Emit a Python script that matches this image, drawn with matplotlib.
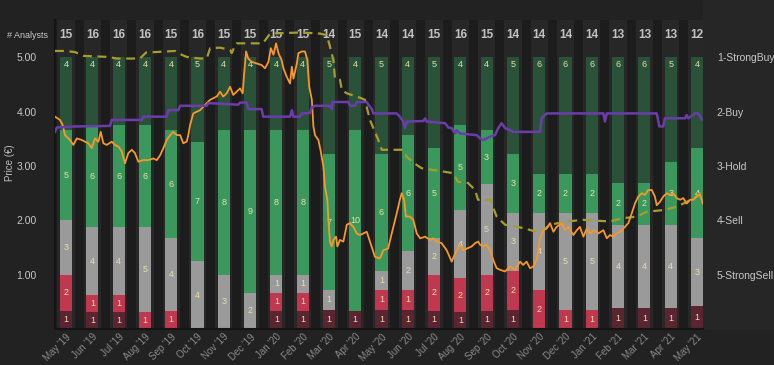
import numpy as np
import matplotlib.pyplot as plt
from matplotlib.patches import Rectangle
from matplotlib.transforms import ScaledTranslation

plt.rcParams["font.family"] = ["Liberation Sans", "DejaVu Sans"]

months = ["May '19", "Jun '19", "Jul '19", "Aug '19", "Sep '19", "Oct '19", "Nov '19",
          "Dec '19", "Jan '20", "Feb '20", "Mar '20", "Apr '20", "May '20", "Jun '20",
          "Jul '20", "Aug '20", "Sep '20", "Oct '20", "Nov '20", "Dec '20", "Jan '21",
          "Feb '21", "Mar '21", "Apr '21", "May '21"]

strong_buy = [4, 4, 4, 4, 4, 5, 4, 4, 4, 4, 5, 4, 5, 4, 5, 4, 4, 5, 6, 6, 6, 6, 6, 5, 4]
buy = [5, 6, 6, 6, 6, 7, 8, 9, 8, 8, 7, 10, 6, 6, 5, 5, 3, 3, 2, 2, 2, 2, 2, 3, 4]
hold = [3, 4, 4, 5, 4, 4, 3, 2, 1, 1, 1, 0, 1, 2, 2, 4, 5, 3, 4, 5, 5, 4, 4, 4, 3]
sell = [2, 1, 1, 1, 1, 0, 0, 0, 1, 1, 0, 0, 1, 1, 2, 2, 2, 2, 2, 1, 1, 0, 0, 0, 0]
strong_sell = [1, 1, 1, 0, 0, 0, 0, 0, 1, 1, 1, 1, 1, 1, 1, 1, 1, 1, 0, 0, 0, 1, 1, 1, 1]

rating_labels = ["1-StrongBuy", "2-Buy", "3-Hold", "4-Sell", "5-StrongSell"]

# share price, time in months since May '19
price_t = [-0.42, -0.23, -0.13, -0.04, 0.15, 0.28, 0.41, 0.60, 0.72, 0.85, 0.98, 1.10, 1.23,
           1.32, 1.42, 1.55, 1.74, 1.86, 1.99, 2.12, 2.24, 2.37, 2.50, 2.62, 2.75, 2.94, 3.13,
           3.32, 3.45, 3.58, 3.70, 3.83, 3.96, 4.08, 4.21, 4.34, 4.46, 4.59, 4.65, 4.72, 4.84,
           4.97, 5.10, 5.22, 5.35, 5.48, 5.60, 5.73, 5.86, 5.98, 6.11, 6.24, 6.36, 6.49, 6.62,
           6.72, 6.77, 6.85, 6.93, 7.06, 7.25, 7.44, 7.57, 7.70, 7.79, 7.89, 7.99, 8.08, 8.20,
           8.27, 8.39, 8.52, 8.59, 8.65, 8.78, 8.84, 8.97, 9.09, 9.18, 9.25, 9.35, 9.41, 9.47,
           9.60, 9.69, 9.79, 9.85, 9.94, 9.98, 10.04, 10.11, 10.17, 10.27, 10.32, 10.42, 10.55,
           10.68, 10.80, 10.93, 11.06, 11.18, 11.31, 11.44, 11.56, 11.75, 11.94, 12.07, 12.25,
           12.39, 12.58, 12.70, 12.77, 12.86, 12.93, 13.08, 13.21, 13.34, 13.47, 13.66, 13.85,
           13.97, 14.10, 14.29, 14.48, 14.67, 14.80, 14.99, 15.11, 15.24, 15.43, 15.56, 15.68,
           15.75, 15.87, 16.00, 16.13, 16.25, 16.38, 16.51, 16.70, 16.89, 17.08, 17.27, 17.39,
           17.52, 17.65, 17.77, 17.90, 18.03, 18.16, 18.28, 18.41, 18.54, 18.66, 18.86, 18.98,
           19.11, 19.30, 19.43, 19.55, 19.68, 19.81, 19.93, 20.12, 20.25, 20.44, 20.57, 20.69,
           20.82, 20.95, 21.07, 21.26, 21.39, 21.52, 21.64, 21.77, 21.90, 22.02, 22.15, 22.28,
           22.40, 22.47, 22.59, 22.72, 22.85, 22.97, 23.10, 23.23, 23.36, 23.48, 23.61, 23.74,
           23.86, 23.99, 24.12, 24.22]
price_v = [3.91, 3.85, 3.76, 3.57, 3.48, 3.39, 3.51, 3.48, 3.45, 3.42, 3.33, 3.51, 3.45,
           3.63, 3.42, 3.39, 3.45, 3.39, 3.36, 3.27, 3.05, 3.24, 3.30, 3.24, 3.08, 3.11, 3.11,
           3.14, 3.11, 3.20, 3.33, 3.48, 3.57, 3.63, 3.57, 3.57, 3.42, 3.45, 3.57, 3.76, 3.97,
           4.00, 4.03, 4.09, 4.16, 4.22, 4.25, 4.28, 4.37, 4.28, 4.34, 4.46, 4.31, 4.37, 4.43,
           4.34, 4.68, 5.11, 4.98, 4.92, 4.89, 4.86, 4.80, 4.92, 5.17, 5.05, 5.26, 5.08, 4.95,
           4.80, 4.65, 4.52, 4.83, 4.61, 4.89, 5.08, 5.11, 5.11, 4.95, 4.46, 4.22, 3.73, 3.57,
           3.48, 3.27, 2.99, 2.62, 2.38, 2.01, 1.61, 1.52, 1.64, 1.70, 1.52, 1.64, 1.61,
           1.92, 1.95, 1.88, 1.76, 1.73, 1.76, 1.79, 1.61, 1.33, 1.30, 1.45, 1.48,
           1.76, 2.13, 2.38, 2.50, 2.38, 2.07, 2.07, 2.01, 1.76, 1.67, 1.70, 1.64,
           1.67, 1.61, 1.58, 1.45, 1.24, 1.39, 1.55, 1.45, 1.48, 1.52, 1.58, 1.61,
           1.55, 1.52, 1.55, 1.45, 1.27, 1.12, 1.09, 1.06, 1.15, 1.09, 1.24, 1.18,
           1.24, 1.12, 1.15, 1.27, 1.67, 1.82, 1.85, 1.95, 1.79, 1.88, 1.95, 1.82,
           1.88, 1.73, 1.82, 1.88, 1.70, 1.85, 1.76, 1.82, 1.76, 1.82, 1.67, 1.73,
           1.70, 1.76, 1.79, 1.88, 1.95, 2.13, 2.31, 2.44, 2.50, 2.47, 2.56, 2.56,
           2.44, 2.28, 2.34, 2.44, 2.50, 2.47, 2.50, 2.41, 2.38, 2.41, 2.31, 2.38,
           2.38, 2.44, 2.47, 2.31]

# average price target
target_t = [-0.42, -0.04, 0.34, 0.66, 1.61, 1.93, 2.81, 3.04, 4.15, 4.40, 4.59, 5.10, 5.35,
            5.48, 5.86, 6.24, 6.30, 6.43, 6.49, 7.49, 7.76, 8.90, 9.66, 9.92, 10.04, 10.17,
            10.23, 10.42, 10.49, 10.68, 11.18, 11.37, 11.56, 11.75, 11.88, 12.01, 12.82, 12.96,
            13.34, 13.53, 14.34, 14.72, 14.91, 15.29, 15.56, 15.67, 16.13, 16.38, 16.70, 17.38,
            17.90, 18.16, 18.41, 19.05, 19.67, 20.69, 21.19, 21.71, 22.09, 22.72, 23.23, 23.61,
            23.99, 24.22]
target_v = [5.12, 5.12, 5.10, 5.03, 5.01, 4.98, 4.98, 5.09, 5.12, 5.05, 5.01, 4.98, 4.98,
            5.17, 5.18, 5.14, 5.08, 5.22, 5.26, 5.26, 5.44, 5.46, 5.44, 5.41, 5.20, 4.95,
            4.61, 4.59, 4.40, 4.34, 4.26, 4.22, 3.85, 3.63, 3.48, 3.30, 3.30, 3.17,
            3.02, 2.96, 2.90, 2.87, 2.71, 2.69, 2.56, 2.38, 2.38, 2.07, 1.92, 1.86,
            1.79, 1.82, 1.92, 1.98, 2.01, 1.98, 2.04, 2.07, 2.16, 2.19, 2.25, 2.34,
            2.44, 2.56]

# average analyst rating (1 = strong buy, 5 = strong sell)
rating_t = [-0.42, -0.35, 0.34, 1.67, 1.74, 2.88, 2.94, 3.83, 3.89, 4.27, 4.34, 5.35, 5.41,
            6.55, 6.62, 6.87, 6.93, 7.44, 7.50, 8.52, 8.59, 8.65, 8.90, 8.97, 9.28, 9.35, 9.47,
            10.04, 10.11, 10.14, 10.74, 10.80, 10.99, 11.06, 11.44, 11.50, 11.63, 11.69, 12.58,
            12.70, 12.83, 12.89, 12.96, 13.59, 13.66, 13.72, 14.42, 14.54, 14.67, 14.80, 14.86,
            14.99, 15.62, 15.75, 15.87, 16.13, 16.32, 16.44, 16.57, 16.70, 16.89, 17.01, 18.03,
            18.09, 18.28, 20.44, 20.50, 20.57, 22.47, 22.57, 22.72, 22.78, 23.54, 23.61, 23.67,
            23.93, 24.05, 24.18]
rating_v = [2.37, 2.29, 2.27, 2.26, 2.15, 2.15, 2.09, 2.09, 1.97, 1.97, 1.89, 1.89, 1.84,
            1.87, 1.83, 1.83, 1.95, 1.95, 2.09, 2.09, 1.97, 2.09, 2.09, 2.03, 2.02, 1.92, 1.89,
            1.89, 1.95, 1.82, 1.82, 1.89, 1.89, 1.82, 1.82, 1.87, 1.95, 2.03, 2.03,
            2.09, 2.18, 2.30, 2.18, 2.17, 2.12, 2.18, 2.21, 2.29, 2.30, 2.40, 2.34,
            2.40, 2.43, 2.49, 2.52, 2.46, 2.43, 2.30, 2.21, 2.30, 2.34, 2.37, 2.37,
            2.12, 2.03, 2.03, 2.18, 2.03, 2.03, 2.27, 2.27, 2.12, 2.12, 2.06, 2.12,
            2.03, 2.03, 2.14]

W, H = 774, 365
fig = plt.figure(figsize=(W / 100, H / 100), dpi=100, facecolor="#222222")
fig.patches.append(Rectangle((703 / W, 1 - 329 / H), 71 / W, 329 / H,
                             transform=fig.transFigure, color="#262626", zorder=-5))
ax = fig.add_axes([55 / W, 1 - 329 / H, 648 / W, 309 / H])
ax.set_facecolor("#1c1c1c")

x = np.arange(len(months))
totals = np.array(strong_buy) + np.array(buy) + np.array(hold) + np.array(sell) + np.array(strong_sell)
scale = 5.0 / totals

for i in x:
    ax.axvspan(i - 0.33, i + 0.33, color="#272727", lw=0, zorder=0)

seg_colors = ["#5a2431", "#bf3850", "#9a9a9a", "#3a985d", "#2a5239"]
stack = [strong_sell, sell, hold, buy, strong_buy]
bottom = np.zeros(len(x))
label_col = "#e6e0a6"
for k, (vals, col) in enumerate(zip(stack, seg_colors)):
    h = np.array(vals) * scale
    ax.bar(x, h, bottom=bottom, width=0.46, color=col, lw=0, zorder=1)
    for i in x:
        if vals[i] == 0:
            continue
        if k == 4:
            yy = bottom[i] + h[i] - 0.13
        else:
            yy = bottom[i] + h[i] / 2
        ax.text(i, yy, str(vals[i]), ha="center", va="center", fontsize=6.5,
                color=label_col, zorder=3)
    bottom = bottom + h

for i in x:
    ax.text(i, 5.41, str(totals[i]), ha="center", va="center", fontsize=8.5,
            fontweight="bold", color="#c2c2c2")
fig.text(48 / W, 1 - 35 / H, "# Analysts", ha="right", va="center", fontsize=6.5,
         color="#c8c8c8")

ax.plot(target_t, target_v, color="#a69d2e", lw=1.6, ls=(0, (4, 2.5)), zorder=4)
ax.plot(price_t, price_v, color="#f7982a", lw=1.3, zorder=5)

ax.set_xlim(-0.42, 24.23)
ax.set_ylim(0, 5.69)
ax.set_yticks([1, 2, 3, 4, 5])
ax.set_yticklabels(["1.00", "2.00", "3.00", "4.00", "5.00"])
ax.set_xticks(x)
ax.set_xticklabels(months, rotation=45, ha="right", va="top", rotation_mode="anchor")
shift = ScaledTranslation(-5 / 72, 0, fig.dpi_scale_trans)
for lab in ax.get_xticklabels():
    lab.set_transform(lab.get_transform() + shift)
ax.tick_params(axis="y", length=0, labelsize=7.5, colors="#c8c8c8", pad=13)
ax.tick_params(axis="x", length=0, labelsize=7, colors="#8a8a8a", pad=2)
ax.set_ylabel("Price (€)", fontsize=7, color="#bdbdbd", va="center")
ax.yaxis.set_label_coords(-0.069, 0.537)
for s in ["top", "right"]:
    ax.spines[s].set_visible(False)
for s in ["left", "bottom"]:
    ax.spines[s].set_color("#141414")
    ax.spines[s].set_linewidth(1.5)

ax2 = ax.twinx()
ax2.set_ylim(6, 6 - 5.69)
ax2.plot(rating_t, rating_v, color="#6a3cac", lw=1.8, zorder=6)
ax2.set_yticks([1, 2, 3, 4, 5])
ax2.set_yticklabels(rating_labels)
ax2.tick_params(axis="y", length=0, labelsize=7.5, colors="#c8c8c8", pad=10)
for s in ax2.spines.values():
    s.set_visible(False)

plt.savefig("out.png", dpi=100, facecolor=fig.get_facecolor())
